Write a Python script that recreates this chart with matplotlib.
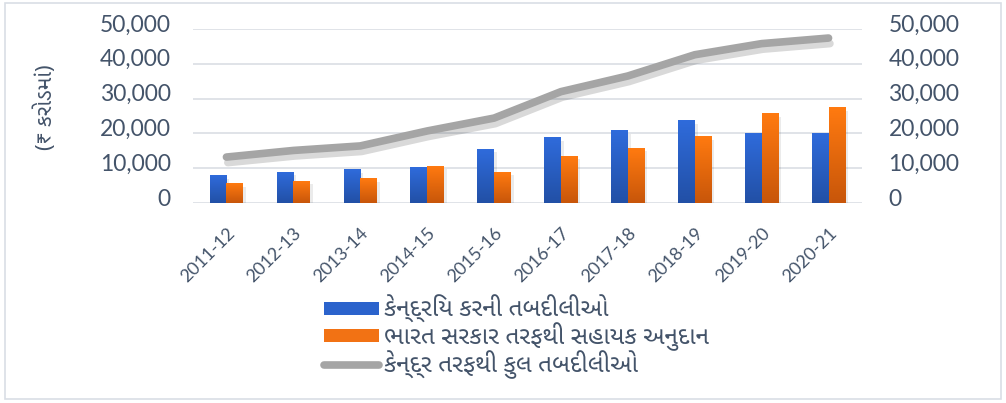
import numpy as np
import matplotlib
matplotlib.use("Agg")
import matplotlib.pyplot as plt
import matplotlib.patheffects as pe
import matplotlib.transforms as mtrans
from matplotlib.colors import LinearSegmentedColormap
from matplotlib.patches import Patch, Rectangle
from matplotlib.lines import Line2D
from matplotlib.ticker import FuncFormatter

years = ["2011-12", "2012-13", "2013-14", "2014-15", "2015-16",
         "2016-17", "2017-18", "2018-19", "2019-20", "2020-21"]
tax_devolution = [7760, 8900, 9500, 10100, 15500, 18700, 20700, 23600, 20100, 20100]
grants = [5460, 6300, 6900, 10600, 8900, 13300, 15800, 19000, 25600, 27300]
total_transfers = [13200, 15100, 16400, 20700, 24400, 32000, 36500, 42600, 45800, 47400]

labels = ["કેન્દ્રિય કરની તબદીલીઓ",
          "ભારત સરકાર તરફથી સહાયક અનુદાન",
          "કેન્દ્ર તરફથી કુલ તબદીલીઓ"]
ylabel = "(₹ કરોડમાં)"

TXT = "#44546A"
BLUE = "#2B63CC"
ORANGE = "#F27214"
GRAY = "#A5A5A5"
GUJ = ["Noto Sans Gujarati", "Hind Vadodara", "DejaVu Sans"]

plt.rcParams["font.family"] = ["Lato", "DejaVu Sans"]

fig = plt.figure(figsize=(10.06, 4.03), dpi=100)
fig.patches.append(Rectangle((5 / 1006, 4 / 403), 996 / 1006, 396 / 403,
                             transform=fig.transFigure, fill=False,
                             edgecolor="#D9DEE5", linewidth=1.2))

ax = fig.add_axes([193 / 1006, 1 - 203 / 403, 669 / 1006, 174 / 403])
x = np.arange(len(years))
w = 0.25
shadow = [pe.SimplePatchShadow(offset=(2, -2), shadow_rgbFace="#000000", alpha=0.08), pe.Normal()]
b1 = ax.bar(x - w / 2, tax_devolution, w, color=BLUE, zorder=3)
b2 = ax.bar(x + w / 2, grants, w, color=ORANGE, zorder=3)
grad = np.linspace(1, 0, 50).reshape(-1, 1)
for bars, top, bot in ((b1, "#2F6BDB", "#2250A6"), (b2, "#FF7A10", "#C8560A")):
    cmap = LinearSegmentedColormap.from_list("g", [bot, top])
    for r in bars:
        r.set_path_effects(shadow)
        x0, y0 = r.get_x(), r.get_y()
        ax.imshow(grad, extent=(x0, x0 + r.get_width(), y0, y0 + r.get_height()),
                  cmap=cmap, aspect="auto", zorder=3.5, origin="upper")

ax.plot(x, total_transfers, color=GRAY, linewidth=5.5, solid_capstyle="round", zorder=4,
        path_effects=[pe.SimpleLineShadow(offset=(1, -4), shadow_color="#000000", alpha=0.15),
                      pe.Normal()])

ax.set_xlim(-0.5, len(years) - 0.5)
ax.set_ylim(0, 50000)
ax.set_yticks(range(0, 50001, 10000))
fmt = FuncFormatter(lambda v, p: f"{int(v):,}")
ax.yaxis.set_major_formatter(fmt)
ax.grid(axis="y", color="#DDE1E6", linewidth=1.3, zorder=0)
ax.set_axisbelow(True)
for s in ax.spines.values():
    s.set_visible(False)
ax.tick_params(axis="both", length=0, colors=TXT, labelsize=16.5)
ax.tick_params(axis="y", pad=16)
ax.set_xticks(x)
ax.set_xticklabels(years, rotation=45, ha="right", rotation_mode="anchor", fontsize=13)
ax.tick_params(axis="x", pad=16)

ax2 = ax.twinx()
ax2.set_ylim(0, 50000)
ax2.set_yticks(range(0, 50001, 10000))
ax2.yaxis.set_major_formatter(fmt)
for s in ax2.spines.values():
    s.set_visible(False)
ax2.tick_params(axis="y", length=0, colors=TXT, labelsize=16.5, pad=19)

up = mtrans.ScaledTranslation(0, 6 / 100, fig.dpi_scale_trans)
for lab in ax.get_yticklabels() + ax2.get_yticklabels():
    lab.set_transform(lab.get_transform() + up)

fig.text(46 / 1006, 1 - 107 / 403, ylabel, rotation=90, ha="center", va="center",
         color=TXT, fontsize=15.5, family=GUJ)

handles = [Patch(facecolor=BLUE), Patch(facecolor=ORANGE),
           Line2D([0], [0], color=GRAY, linewidth=5.5, solid_capstyle="round")]
leg = fig.legend(handles, labels, loc="upper left", bbox_to_anchor=(324 / 1006, 1 - 295 / 403),
                 frameon=False, borderpad=0, borderaxespad=0, handlelength=2.25,
                 handleheight=0.45, handletextpad=0.2, labelspacing=-0.02,
                 prop={"family": GUJ, "size": 17.5})
for t in leg.get_texts():
    t.set_color(TXT)

fig.savefig("out.png", dpi=100)
